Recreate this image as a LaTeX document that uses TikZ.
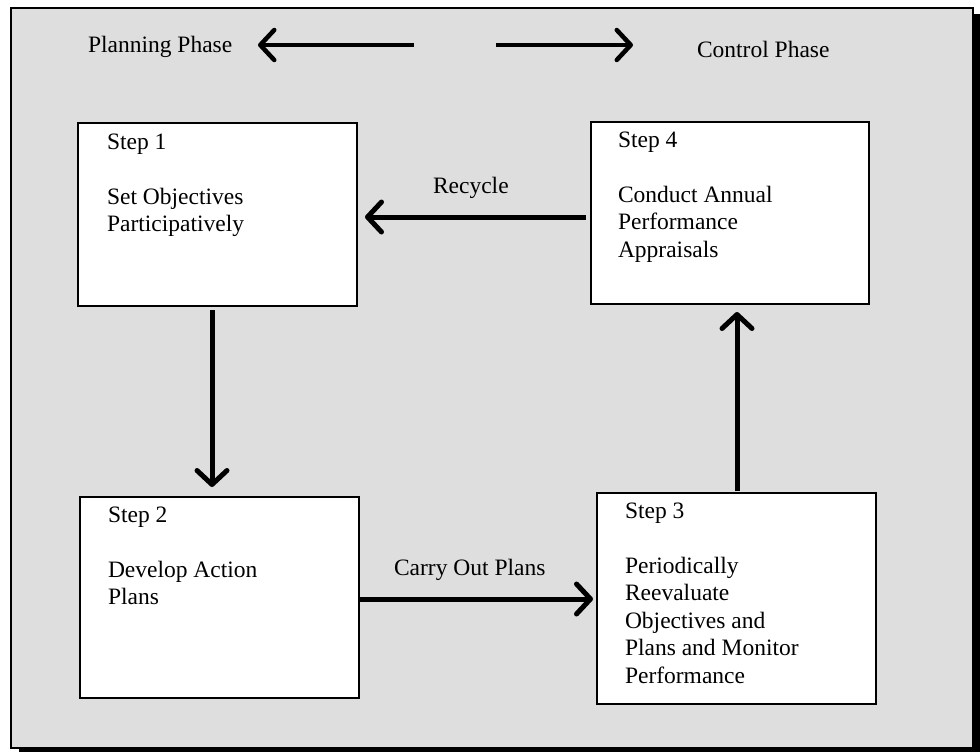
\documentclass[tikz,border=0pt]{standalone}
\usepackage{fontspec}
\setmainfont{Liberation Serif}
\usetikzlibrary{arrows.meta}
\definecolor{bgray}{HTML}{DEDEDE}
\newcommand{\stk}[1]{\vtop{\baselineskip=27.5pt\lineskiplimit=-100pt\lineskip=0pt #1}}
\begin{document}
\begin{tikzpicture}[x=1pt,y=-1pt,
  every node/.style={font=\fontsize{23.5}{27.5}\selectfont, inner sep=0pt, outer sep=0pt},
  stepbox/.style={draw=black, line width=2pt, fill=white, anchor=north west},
  txt/.style={anchor=base west},
  flow/.style={line width=5pt, -{Straight Barb[length=14pt,width=30pt,round]}},
  phase/.style={line width=4.5pt, -{Straight Barb[length=14pt,width=30pt,round]}}]
\useasboundingbox (0,0) rectangle (980,752);
\fill[black] (19,14) rectangle (980,752);
\draw[line width=2pt, fill=bgray] (11,8) rectangle (973,748);

\node[stepbox, minimum width=279pt, minimum height=183pt] (s1) at (78,123) {};
\node[stepbox, minimum width=278pt, minimum height=182pt] (s4) at (591,122) {};
\node[stepbox, minimum width=279pt, minimum height=201pt] (s2) at (80,497) {};
\node[stepbox, minimum width=279pt, minimum height=211pt] (s3) at (597,493) {};

\node[txt] (t1) at (107,149) {\stk{\hbox{Step 1}\hbox{}\hbox{Set Objectives}\hbox{Participatively}}};
\node[txt] (t4) at (618,147) {\stk{\hbox{Step 4}\hbox{}\hbox{Conduct Annual}\hbox{Performance}\hbox{Appraisals}}};
\node[txt] (t2) at (108,522) {\stk{\hbox{Step 2}\hbox{}\hbox{Develop Action}\hbox{Plans}}};
\node[txt] (t3) at (625,518) {\stk{\hbox{Step 3}\hbox{}\hbox{Periodically}\hbox{Reevaluate}\hbox{Objectives and}\hbox{Plans and Monitor}\hbox{Performance}}};

\node[txt] (plan) at (88,53) {Planning Phase};
\node[txt] (ctrl) at (697,58) {Control Phase};
\node[txt] (recy) at (433,193) {Recycle};
\node[txt] (carry) at (394,575) {Carry Out Plans};

\coordinate (pla) at (414,45);
\coordinate (plb) at (258,45);
\coordinate (cta) at (496,45);
\coordinate (ctb) at (633,45);
\draw[phase] (pla) -- (plb);
\draw[phase] (cta) -- (ctb);

\draw[flow] ([shift={(-5,4)}]s4.west) -- ([shift={(8,2.5)}]s1.east);
\draw[flow] ([shift={(-5.5,4)}]s1.south) -- ([shift={(-7.5,-10)}]s2.north);
\draw[flow] ([shift={(1,1.5)}]s2.east) -- ([shift={(-4,0.5)}]s3.west);
\draw[flow] ([shift={(0.5,-2)}]s3.north) -- ([shift={(7,8)}]s4.south);
\end{tikzpicture}
\end{document}
